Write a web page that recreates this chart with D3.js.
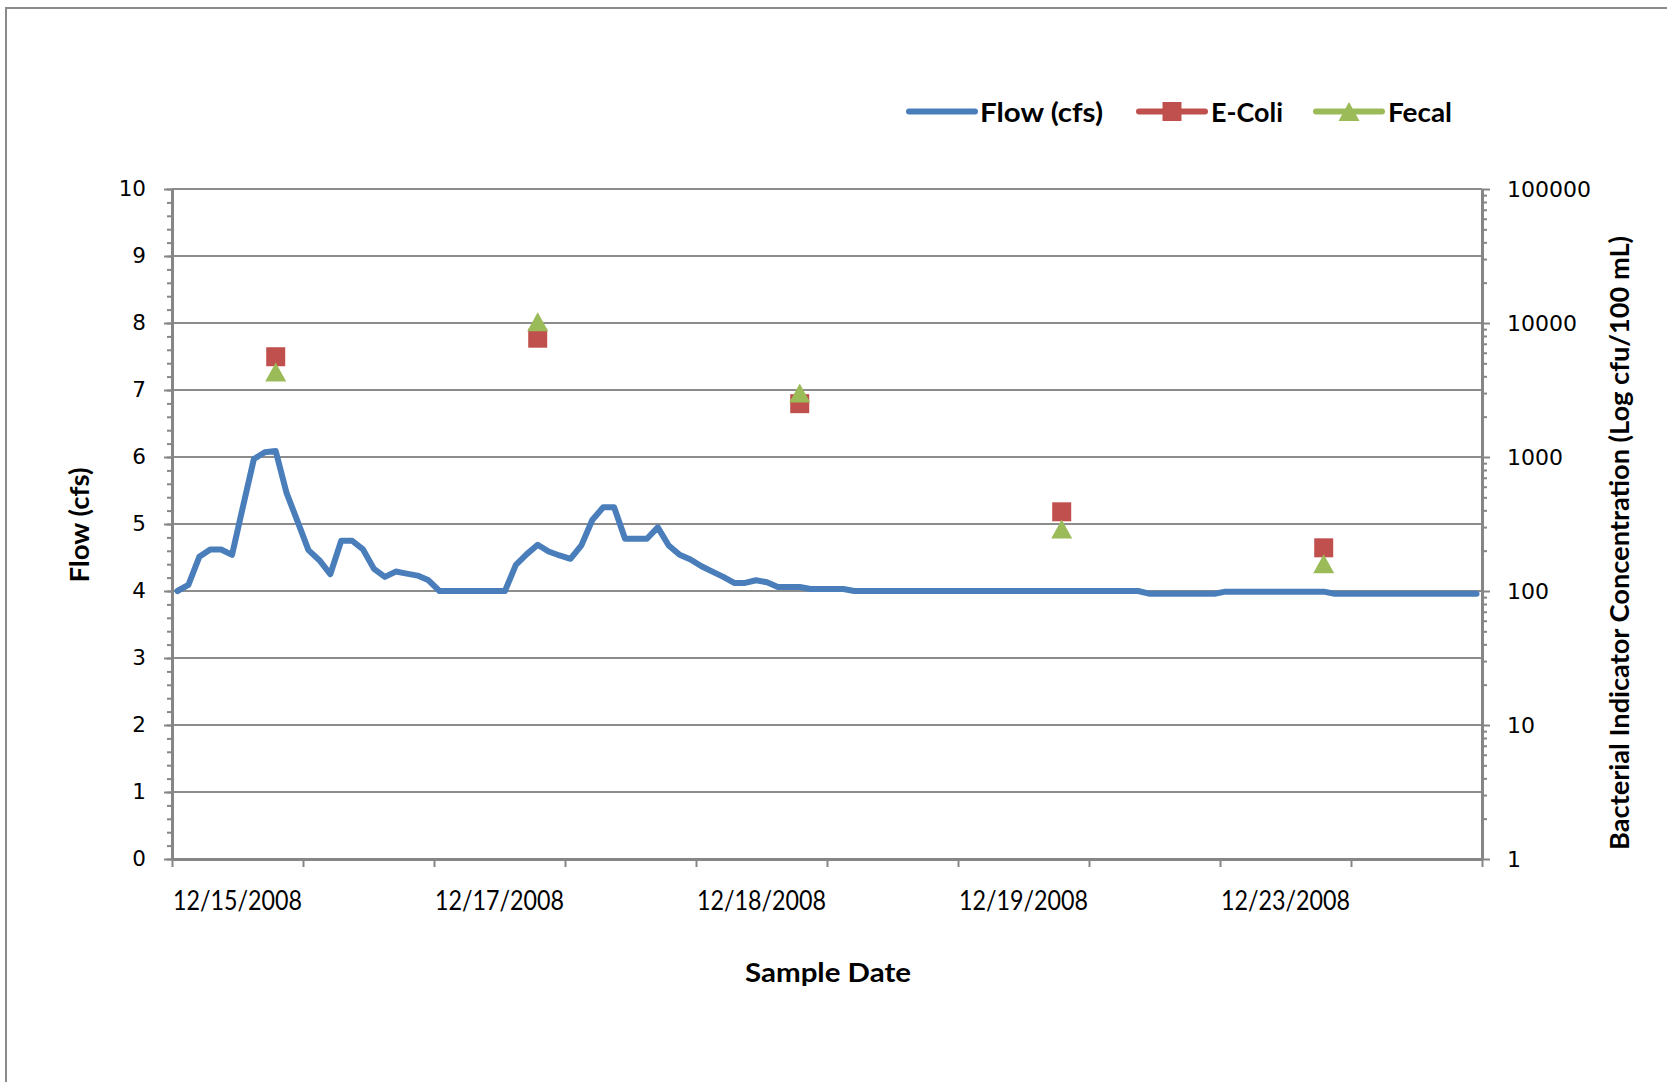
<!DOCTYPE html>
<html>
<head>
<meta charset="utf-8">
<script src="https://cdn.jsdelivr.net/npm/d3@7"></script>
<style>
  body { margin: 0; background: #fff; }
  svg { display: block; }
</style>
</head>
<body>
<svg id="chart" width="1667" height="1082"></svg>
<script>
// Stream flow, one reading per interval (cfs)
const flowCfs = [
  4.00, 4.09, 4.51, 4.62, 4.62, 4.54, 5.26, 5.97, 6.07, 6.09,
  5.46, 5.04, 4.61, 4.46, 4.25, 4.75, 4.75, 4.62, 4.33, 4.21,
  4.29, 4.26, 4.23, 4.16, 4.00, 4.00, 4.00, 4.00, 4.00, 4.00,
  4.00, 4.39, 4.55, 4.69, 4.59, 4.53, 4.48, 4.68, 5.06, 5.25,
  5.25, 4.78, 4.78, 4.78, 4.95, 4.68, 4.54, 4.47, 4.37, 4.29,
  4.21, 4.12, 4.12, 4.16, 4.13, 4.06, 4.06, 4.06, 4.03, 4.03,
  4.03, 4.03, 4.00, 4.00, 4.00, 4.00, 4.00, 4.00, 4.00, 4.00,
  4.00, 4.00, 4.00, 4.00, 4.00, 4.00, 4.00, 4.00, 4.00, 4.00,
  4.00, 4.00, 4.00, 4.00, 4.00, 4.00, 4.00, 4.00, 4.00, 3.96,
  3.96, 3.96, 3.96, 3.96, 3.96, 3.96, 3.99, 3.99, 3.99, 3.99,
  3.99, 3.99, 3.99, 3.99, 3.99, 3.99, 3.96, 3.96, 3.96, 3.96,
  3.96, 3.96, 3.96, 3.96, 3.96, 3.96, 3.96, 3.96, 3.96, 3.96
];

// Bacterial samples: position in the flow record and concentration (cfu/100 mL)
const sampleIndex = [9, 33, 57, 81, 105];
const eColi = [5600, 7700, 2500, 390, 210];
const fecal = [4300, 10200, 3000, 290, 160];

// Axis labels
const dateLabels = ["12/15/2008", "12/17/2008", "12/18/2008", "12/19/2008", "12/23/2008"];
const flowTicks = [0, 1, 2, 3, 4, 5, 6, 7, 8, 9, 10];
const concTicks = [1, 10, 100, 1000, 10000, 100000];
const legendLabels = ["Flow (cfs)", "E-Coli", "Fecal"];

const COLORS = { flow: "#4A7EBB", ecoli: "#C0504D", fecal: "#9BBB59", axis: "#868686", grid: "#8C8C8C" };
const TEXT_FONT = "Lato, 'Open Sans', sans-serif";
const NUM_FONT = "'DejaVu Sans', Verdana, sans-serif";

const plot = { left: 172, right: 1482, top: 189, bottom: 859 };
const tickEvery = 12;

const svg = d3.select("#chart");

// outer chart frame
svg.append("rect")
  .attr("x", 6).attr("y", 8).attr("width", 1720).attr("height", 1120)
  .attr("fill", "#fff").attr("stroke", "#8A8A8A").attr("stroke-width", 2);

const x = d3.scaleLinear().domain([0, flowCfs.length]).range([plot.left, plot.right]);
const y = d3.scaleLinear().domain([0, 10]).range([plot.bottom, plot.top]);
const yR = d3.scaleLog().domain([1, 100000]).range([plot.bottom, plot.top]);

// horizontal gridlines
svg.append("g").selectAll("line")
  .data(flowTicks.filter(d => d > 0))
  .join("line")
  .attr("x1", plot.left).attr("x2", plot.right)
  .attr("y1", d => y(d)).attr("y2", d => y(d))
  .attr("stroke", COLORS.grid).attr("stroke-width", 2);

function styleAxis(g) {
  g.selectAll("path.domain").attr("stroke", COLORS.axis).attr("stroke-width", 3);
  g.selectAll(".tick line").attr("stroke", COLORS.axis).attr("stroke-width", 2);
  g.selectAll(".tick text").attr("fill", "#000");
}

// left axis: minor then major ticks
svg.append("g")
  .attr("transform", `translate(${plot.left},0)`)
  .call(d3.axisLeft(y).tickValues(d3.range(0, 51).map(k => k / 5)).tickSize(5).tickSizeOuter(0).tickFormat(""))
  .call(g => g.select("path.domain").remove())
  .call(styleAxis);

svg.append("g")
  .attr("transform", `translate(${plot.left},0)`)
  .call(d3.axisLeft(y).tickValues(flowTicks).tickSize(8).tickSizeOuter(0).tickPadding(18).tickFormat(d3.format("d")))
  .call(styleAxis)
  .call(g => g.selectAll(".tick text").attr("font-family", NUM_FONT).attr("font-size", 21.5));

// right (log) axis
const minorConc = yR.ticks().filter(d => !concTicks.includes(d));
svg.append("g")
  .attr("transform", `translate(${plot.right},0)`)
  .call(d3.axisRight(yR).tickValues(minorConc).tickSize(5).tickSizeOuter(0).tickFormat(""))
  .call(g => g.select("path.domain").remove())
  .call(styleAxis);

svg.append("g")
  .attr("transform", `translate(${plot.right},0)`)
  .call(d3.axisRight(yR).tickValues(concTicks).tickSize(8).tickSizeOuter(0).tickPadding(17).tickFormat(d3.format("d")))
  .call(styleAxis)
  .call(g => g.selectAll(".tick text").attr("font-family", NUM_FONT).attr("font-size", 22));

// bottom category axis
const xTicks = d3.range(0, flowCfs.length + 1, tickEvery);
svg.append("g")
  .attr("transform", `translate(0,${plot.bottom})`)
  .call(d3.axisBottom(x).tickValues(xTicks).tickSize(8).tickSizeOuter(0).tickFormat(""))
  .call(styleAxis);

// date labels sit centred between every other pair of tick marks
svg.append("g").selectAll("text")
  .data(dateLabels)
  .join("text")
  .attr("x", (d, k) => x(k * 2 * tickEvery + tickEvery / 2))
  .attr("y", 910)
  .attr("text-anchor", "middle")
  .attr("font-family", TEXT_FONT).attr("font-size", 27)
  .attr("textLength", 129).attr("lengthAdjust", "spacingAndGlyphs")
  .text(d => d);

// flow line
const line = d3.line().x((d, i) => x(i + 0.5)).y(d => y(d));
svg.append("path")
  .datum(flowCfs)
  .attr("d", line)
  .attr("fill", "none")
  .attr("stroke", COLORS.flow)
  .attr("stroke-width", 6)
  .attr("stroke-linejoin", "round")
  .attr("stroke-linecap", "round");

// marker shapes (centred on their bounding box)
const SQ = 19, TW = 21, TH = 19;
function squarePath(cx, cy) {
  return `M${cx - SQ / 2},${cy - SQ / 2}h${SQ}v${SQ}h${-SQ}Z`;
}
function trianglePath(cx, cy) {
  return `M${cx},${cy - TH / 2}L${cx + TW / 2},${cy + TH / 2}L${cx - TW / 2},${cy + TH / 2}Z`;
}

svg.append("g").selectAll("path")
  .data(eColi)
  .join("path")
  .attr("d", (d, k) => squarePath(x(sampleIndex[k] + 0.5), yR(d)))
  .attr("fill", COLORS.ecoli);

svg.append("g").selectAll("path")
  .data(fecal)
  .join("path")
  .attr("d", (d, k) => trianglePath(x(sampleIndex[k] + 0.5), yR(d)))
  .attr("fill", COLORS.fecal);

// legend
const legendY = 111.5;
const legendDefs = [
  { label: legendLabels[0], color: COLORS.flow, x0: 909, x1: 975, mark: null, tx: 980, tw: 123 },
  { label: legendLabels[1], color: COLORS.ecoli, x0: 1139, x1: 1205, mark: squarePath, tx: 1211, tw: 72 },
  { label: legendLabels[2], color: COLORS.fecal, x0: 1316, x1: 1382, mark: trianglePath, tx: 1388, tw: 64 }
];
const lg = svg.append("g");
legendDefs.forEach(item => {
  lg.append("line")
    .attr("x1", item.x0).attr("x2", item.x1)
    .attr("y1", legendY).attr("y2", legendY)
    .attr("stroke", item.color).attr("stroke-width", 6).attr("stroke-linecap", "round");
  if (item.mark) {
    lg.append("path").attr("d", item.mark((item.x0 + item.x1) / 2, legendY)).attr("fill", item.color);
  }
  lg.append("text")
    .attr("x", item.tx).attr("y", 122)
    .attr("font-family", TEXT_FONT).attr("font-weight", 700).attr("font-size", 27)
    .attr("textLength", item.tw).attr("lengthAdjust", "spacingAndGlyphs")
    .text(item.label);
});

// axis titles
svg.append("text")
  .attr("x", 828).attr("y", 982)
  .attr("text-anchor", "middle")
  .attr("font-family", TEXT_FONT).attr("font-weight", 700).attr("font-size", 26)
  .attr("textLength", 166).attr("lengthAdjust", "spacingAndGlyphs")
  .text("Sample Date");

svg.append("text")
  .attr("transform", "translate(89,525) rotate(-90)")
  .attr("text-anchor", "middle")
  .attr("font-family", TEXT_FONT).attr("font-weight", 700).attr("font-size", 26)
  .attr("textLength", 115).attr("lengthAdjust", "spacingAndGlyphs")
  .text("Flow (cfs)");

svg.append("text")
  .attr("transform", "translate(1629,543) rotate(-90)")
  .attr("text-anchor", "middle")
  .attr("font-family", TEXT_FONT).attr("font-weight", 700).attr("font-size", 26)
  .attr("textLength", 614).attr("lengthAdjust", "spacingAndGlyphs")
  .text("Bacterial Indicator Concentration (Log cfu/100 mL)");
</script>
</body>
</html>
